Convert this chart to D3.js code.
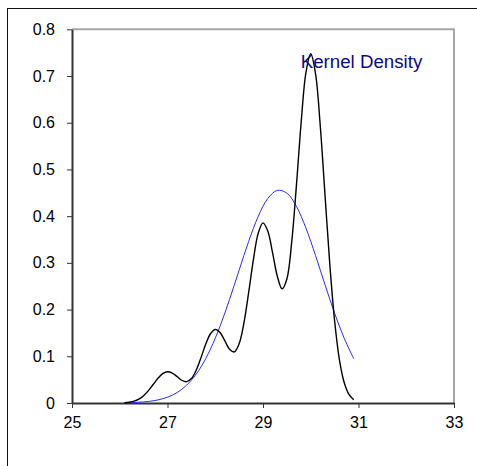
<!DOCTYPE html>
<html>
<head>
<meta charset="utf-8">
<script src="https://cdn.jsdelivr.net/npm/d3@7"></script>
<style>
  html, body { margin: 0; padding: 0; background: #fff; }
  svg { display: block; }
  text { font-family: "Liberation Sans", Arial, sans-serif; }
</style>
</head>
<body>
<svg id="chart" width="477" height="466"></svg>
<script>
// ---- data ----
const xTicks = [25, 27, 29, 31, 33];
const yTicks = [0, 0.1, 0.2, 0.3, 0.4, 0.5, 0.6, 0.7, 0.8];
const yTickLabels = ["0", "0.1", "0.2", "0.3", "0.4", "0.5", "0.6", "0.7", "0.8"];

// kernel density curve (black)
const kdeX = [26.1,26.2,26.3,26.4,26.5,26.6,26.7,26.8,26.9,27.0,
              27.1,27.2,27.3,27.4,27.5,27.6,27.7,27.8,27.9,28.0,
              28.1,28.2,28.3,28.4,28.5,28.6,28.7,28.8,28.9,29.0,
              29.1,29.2,29.3,29.4,29.5,29.6,29.7,29.8,29.9,30.0,
              30.1,30.2,30.3,30.4,30.5,30.6,30.7,30.8,30.9];
const kdeY = [0.0006,0.0016,0.0039,0.0083,0.0156,0.0264,0.0395,0.0528,0.0629,0.0670,
              0.0642,0.0566,0.0487,0.0457,0.0523,0.0701,0.0966,0.1256,0.1483,0.1575,
              0.1509,0.1333,0.1152,0.1094,0.1267,0.1710,0.2366,0.3076,0.3633,0.3855,
              0.3682,0.3220,0.2712,0.2445,0.2656,0.3433,0.4659,0.6016,0.7080,0.7476,
              0.7049,0.5923,0.4434,0.2957,0.1756,0.0929,0.0438,0.0184,0.0069];

// normal curve (blue)
const normX = [26.1,26.3,26.5,26.7,26.9,27.1,27.3,27.5,27.7,27.9,
               28.1,28.3,28.5,28.7,28.9,29.1,29.3,29.5,29.7,29.9,
               30.1,30.3,30.5,30.7,30.9];
const normY = [0.0005,0.0011,0.0023,0.0047,0.0091,0.0167,0.0293,0.0488,0.0770,0.1155,
               0.1643,0.2219,0.2844,0.3460,0.3994,0.4377,0.4552,0.4493,0.4209,0.3742,
               0.3157,0.2529,0.1922,0.1387,0.0949];

const labelText = "Kernel Density";

// ---- layout ----
const svg = d3.select("#chart");
const plot = { left: 72, top: 29.3, right: 454, bottom: 403 };

const x = d3.scaleLinear().domain([25, 33]).range([plot.left, plot.right]);
const y = d3.scaleLinear().domain([0, 0.8]).range([plot.bottom, plot.top]);

// outer chart border
svg.append("rect")
  .attr("x", 7.5).attr("y", 8.5)
  .attr("width", 500).attr("height", 500)
  .attr("fill", "none").attr("stroke", "#111").attr("stroke-width", 1);

// plot area top/right border (gray)
svg.append("path")
  .attr("d", `M${plot.left},${plot.top}H${plot.right}V${plot.bottom}`)
  .attr("fill", "none").attr("stroke", "#a6a6a6").attr("stroke-width", 2);

// axes
const yAxis = d3.axisLeft(y).tickValues(yTicks)
  .tickFormat((d, i) => yTickLabels[i]).tickSize(5).tickSizeOuter(0).tickPadding(12);
const gy = svg.append("g").attr("transform", `translate(${plot.left},0)`).call(yAxis);

const xAxis = d3.axisBottom(x).tickValues(xTicks)
  .tickFormat(d3.format("d")).tickSize(5).tickSizeOuter(0).tickPadding(9);
const gx = svg.append("g").attr("transform", `translate(0,${plot.bottom})`).call(xAxis);

[gx, gy].forEach(g => {
  g.select(".domain").attr("stroke", "#333").attr("stroke-width", 2);
  g.selectAll(".tick line").attr("stroke", "#333").attr("stroke-width", 1);
  g.selectAll(".tick text").attr("fill", "#000")
    .style("font-size", "16px")
    .style("font-family", "'Liberation Sans', Arial, sans-serif");
});

// curves
const normData = normX.map((v, i) => [v, normY[i]]);
const kdeData = kdeX.map((v, i) => [v, kdeY[i]]);

const line = d3.line().x(d => x(d[0])).y(d => y(d[1])).curve(d3.curveCatmullRom.alpha(0.5));

svg.append("path").datum(normData)
  .attr("d", line).attr("fill", "none")
  .attr("stroke", "#2a2aff").attr("stroke-width", 1);

svg.append("path").datum(kdeData)
  .attr("d", line).attr("fill", "none")
  .attr("stroke", "#000").attr("stroke-width", 1.4);

// label
svg.append("text")
  .attr("x", x(29.79)).attr("y", y(0.7166))
  .attr("fill", "#0a0a8a")
  .style("font-size", "18.7px")
  .text(labelText);
</script>
</body>
</html>
